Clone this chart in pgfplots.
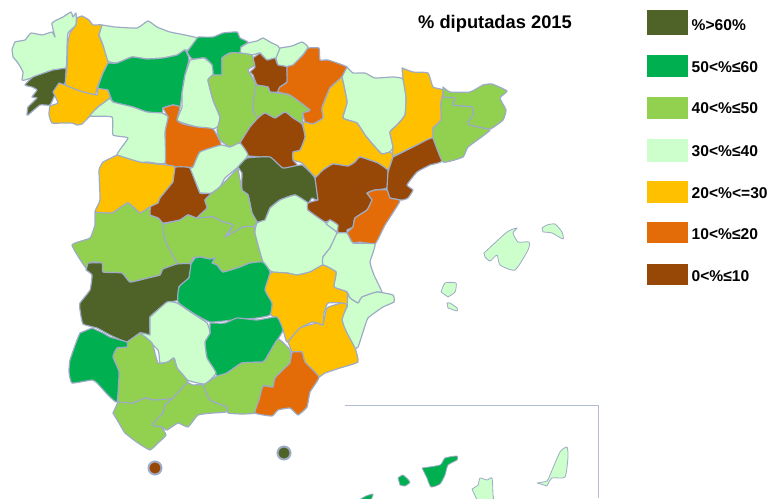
\documentclass[border=0pt]{standalone}
\usepackage{fontspec}
\setmainfont{Liberation Sans}
\usepackage{pgfplots}
\pgfplotsset{compat=1.18}
\definecolor{p60}{HTML}{4F6228}
\definecolor{p50}{HTML}{00B050}
\definecolor{p40}{HTML}{92D050}
\definecolor{p30}{HTML}{CCFFCC}
\definecolor{p20}{HTML}{FFC000}
\definecolor{p10}{HTML}{E36C09}
\definecolor{p00}{HTML}{974706}
\definecolor{mapline}{HTML}{9EABC6}
\newcommand{\prov}[2]{\addplot[draw=mapline,line width=1.2pt,line join=round,smooth,tension=0.25,fill=#1] coordinates {#2} -- cycle;}
\newcommand{\isl}[2]{\addplot[draw=mapline,line width=0.8pt,line join=round,smooth,tension=0.35,fill=#1] coordinates {#2} -- cycle;}
\newcommand{\key}[3]{%
  \addplot[draw=none,fill=#1] coordinates {(647,#2) (688,#2) (688,#3) (647,#3)} -- cycle;}
\begin{document}
\begin{tikzpicture}
\useasboundingbox (0,0) rectangle (770pt,498pt);
\begin{axis}[
  hide axis, scale only axis, width=770pt, height=498pt,
  xmin=0, xmax=770, ymin=0, ymax=498, y dir=reverse,
]
% Galicia
\prov{p30}{(12,50) (15,42) (25,40) (31,33) (42,35) (52,32) (55,37) (52,23) (63,17) (71,12) (73,17) (76,13) (76,25) (68,33) (67,47) (66,68) (53,70) (37,76) (25,80) (22,80) (23,72) (18,63) (13,57)}
\prov{p20}{(77,18) (82,16) (89,20) (93,25) (102,25) (99,35) (103,45) (105,50) (111,49) (107,55) (108,63) (103,73) (97,88) (95,95) (80,91) (68,87) (65,83) (67,68) (68,43) (70,33) (76,25)}
\prov{p60}{(66,68) (65,83) (55,95) (50,105) (40,105) (28,115) (27,115) (28,107) (37,98) (32,97) (37,90) (32,87) (25,85) (33,77) (53,70)}
\prov{p20}{(59,83) (65,85) (80,91) (97,95) (98,88) (107,89) (110,98) (98,107) (90,116) (82,124) (77,125) (72,123) (63,123) (52,123) (49,115) (50,106) (58,103) (53,92)}
% north coast
\prov{p30}{(102,25) (115,27) (137,28) (148,21) (157,27) (170,32) (197,38) (188,50) (185,50) (177,55) (163,58) (147,59) (132,57) (117,63) (108,61) (103,45) (99,35)}
\prov{p50}{(198,37) (213,37) (223,33) (237,32) (240,38) (248,42) (241,47) (240,53) (230,53) (222,58) (222,75) (213,75) (212,65) (205,58) (192,59) (187,52)}
\prov{p30}{(241,47) (248,43) (257,41) (263,38) (270,42) (278,46) (280,50) (277,58) (267,60) (260,53) (252,55) (240,53)}
\prov{p30}{(280,48) (292,46) (302,42) (308,47) (303,55) (293,65) (287,67) (278,65) (276,58)}
% Castilla y Leon
\prov{p50}{(108,63) (117,63) (132,57) (147,59) (163,58) (177,55) (185,50) (189,59) (185,75) (182,93) (180,107) (173,105) (163,108) (162,113) (147,112) (133,107) (113,102) (108,90) (98,88) (103,73)}
\prov{p30}{(190,60) (204,58) (212,65) (213,75) (208,80) (213,100) (220,117) (220,125) (213,129) (197,127) (183,123) (177,120) (182,107) (182,93) (185,75)}
\prov{p40}{(222,58) (230,53) (240,53) (252,55) (255,65) (248,70) (256,85) (253,110) (258,118) (250,127) (240,143) (230,147) (220,140) (217,130) (220,117) (213,100) (208,80) (213,75) (222,75)}
\prov{p00}{(260,53) (267,60) (275,58) (278,65) (287,67) (287,82) (280,87) (278,92) (270,92) (268,87) (257,85) (253,75) (250,72) (255,67) (253,58)}
\prov{p40}{(256,85) (268,87) (270,92) (290,95) (310,110) (303,113) (302,124) (293,118) (285,112) (275,118) (265,113) (258,118) (253,110) (254,97)}
\prov{p10}{(308,48) (319,48) (320,60) (328,60) (347,67) (342,77) (330,88) (322,108) (323,118) (313,124) (305,122) (303,113) (310,110) (290,95) (278,92) (280,87) (287,82) (287,67) (293,65) (303,55)}
\prov{p30}{(347,67) (353,73) (365,73) (375,78) (393,77) (403,79) (406,97) (405,115) (397,125) (390,132) (393,147) (390,152) (382,154) (375,147) (365,135) (357,123) (343,118) (347,102) (342,77)}
\prov{p20}{(402,68) (413,72) (428,73) (433,87) (443,90) (441,103) (441,120) (433,128) (433,138) (417,145) (393,156) (393,147) (390,132) (397,125) (405,115) (406,97) (403,79)}
\prov{p20}{(342,77) (347,102) (343,118) (357,123) (365,135) (375,147) (382,154) (390,152) (393,156) (388,170) (378,163) (360,157) (355,162) (348,166) (333,164) (323,170) (318,178) (313,175) (302,163) (293,160) (293,152) (300,150) (305,137) (303,122) (313,124) (323,118) (322,108) (330,88)}
\prov{p00}{(240,143) (250,127) (258,118) (265,113) (275,118) (285,112) (293,118) (302,124) (305,137) (300,150) (293,152) (293,160) (297,165) (285,170) (277,167) (267,158) (248,156)}
\prov{p10}{(163,108) (173,105) (180,107) (177,120) (183,124) (197,127) (213,129) (221,145) (200,152) (193,167) (173,167) (165,163) (165,132) (168,117)}
\prov{p30}{(110,98) (113,102) (133,107) (147,112) (162,113) (168,117) (165,132) (165,163) (147,162) (137,163) (117,155) (128,138) (113,135) (112,117) (90,116) (98,107)}
\prov{p20}{(117,155) (140,162) (167,165) (175,167) (173,182) (160,198) (158,203) (150,207) (140,213) (128,203) (112,213) (95,212) (100,200) (99,170) (103,162)}
\prov{p00}{(175,167) (190,168) (200,193) (212,193) (205,200) (207,208) (197,218) (188,215) (180,220) (163,223) (158,218) (150,215) (150,207) (158,203) (160,198) (173,182)}
\prov{p30}{(190,168) (193,167) (200,152) (221,145) (230,147) (240,143) (248,155) (238,167) (225,178) (220,187) (212,193) (200,193)}
% centre
\prov{p60}{(238,167) (247,158) (270,157) (283,168) (302,165) (315,178) (318,200) (312,198) (308,203) (295,195) (280,200) (270,208) (265,220) (257,222) (252,213) (248,195) (242,190) (242,173)}
\prov{p40}{(238,168) (242,190) (248,195) (252,213) (257,222) (253,227) (243,227) (227,237) (233,225) (223,222) (213,217) (197,218) (207,208) (205,200) (212,193) (220,187)}
\prov{p40}{(163,224) (180,220) (188,215) (197,218) (213,217) (223,222) (233,225) (225,237) (243,227) (255,227) (255,233) (263,262) (250,263) (240,267) (223,272) (217,265) (212,263) (215,258) (210,259) (200,257) (193,258) (190,264) (177,264) (168,247) (164,237)}
\prov{p40}{(95,212) (112,213) (128,203) (140,213) (150,207) (150,215) (158,218) (163,224) (164,237) (168,247) (177,264) (163,269) (160,275) (148,278) (130,282) (122,273) (103,272) (102,263) (92,262) (86,268) (72,245) (90,238) (95,225)}
\prov{p60}{(88,263) (102,263) (103,272) (122,273) (130,282) (148,278) (160,275) (163,269) (177,264) (191,264) (189,278) (179,287) (178,300) (167,303) (150,317) (150,335) (140,333) (127,342) (110,335) (97,328) (83,324) (80,310) (80,303) (90,290) (92,275) (86,270)}
\prov{p30}{(270,208) (280,200) (295,195) (308,203) (308,210) (325,222) (337,233) (330,248) (323,257) (323,265) (310,272) (297,275) (287,273) (272,272) (263,262) (255,233) (257,223) (265,220)}
\prov{p00}{(315,178) (323,170) (333,164) (348,166) (355,162) (360,157) (378,163) (388,170) (388,172) (387,188) (375,190) (367,193) (372,200) (367,210) (355,218) (353,227) (347,230) (347,237) (338,232) (337,225) (330,220) (325,222) (308,210) (308,203) (318,200)}
\prov{p30}{(326,224) (330,220) (338,225) (337,232)}
\prov{p00}{(393,157) (417,145) (433,138) (442,161) (430,165) (417,172) (407,185) (413,190) (408,198) (402,200) (390,198) (387,190) (388,172)}
\prov{p10}{(367,193) (375,190) (387,190) (390,198) (400,201) (385,225) (375,244) (360,242) (353,243) (347,233) (353,227) (355,218) (367,210) (372,200)}
\prov{p30}{(337,233) (347,233) (353,243) (375,244) (370,262) (374,275) (382,292) (377,292) (362,297) (358,303) (350,298) (347,292) (334,287) (336,272) (323,265) (323,257) (330,248)}
\prov{p30}{(347,293) (350,298) (358,303) (362,297) (377,292) (393,295) (394,302) (383,307) (368,318) (363,332) (358,347) (353,349) (345,332) (342,318) (347,307)}
\prov{p20}{(272,272) (287,273) (297,275) (310,272) (323,265) (336,272) (334,287) (347,292) (347,307) (342,303) (328,303) (324,313) (323,325) (313,322) (300,328) (287,342) (283,330) (270,313) (272,305) (265,290) (267,277)}
\prov{p20}{(288,342) (300,328) (317,323) (323,325) (327,308) (342,303) (347,305) (342,320) (347,333) (355,348) (358,362) (340,368) (325,373) (318,377) (305,362) (302,352) (292,352)}
\prov{p50}{(191,264) (195,258) (200,257) (210,259) (215,258) (212,263) (217,265) (223,272) (240,267) (250,263) (263,262) (270,272) (265,290) (272,303) (270,315) (257,318) (233,320) (210,322) (193,313) (178,302) (179,287) (189,278)}
% Andalucia
\prov{p50}{(210,323) (225,323) (237,318) (257,320) (277,317) (283,330) (278,339) (267,357) (263,362) (242,363) (227,373) (217,376) (207,358) (205,342) (210,333)}
\prov{p30}{(150,317) (167,302) (177,303) (192,313) (207,323) (210,333) (205,342) (207,358) (216,373) (205,384) (187,380) (177,368) (174,358) (168,362) (160,363) (158,350) (140,333) (150,335)}
\prov{p40}{(140,333) (152,343) (158,363) (168,362) (174,358) (177,368) (188,382) (173,398) (170,402) (153,400) (145,398) (133,403) (118,402) (119,372) (113,357) (117,348) (127,347) (127,342)}
\prov{p50}{(92,328) (103,333) (110,337) (127,342) (127,347) (117,348) (113,357) (119,372) (117,402) (108,395) (97,383) (92,380) (72,383) (69,372) (70,360) (77,340) (80,333)}
\prov{p40}{(118,402) (133,403) (145,398) (153,400) (172,399) (165,405) (163,413) (152,425) (160,425) (166,435) (158,443) (150,450) (138,443) (125,433) (119,423) (113,413)}
\prov{p40}{(173,398) (187,383) (193,385) (203,385) (210,400) (227,407) (226,412) (213,413) (198,415) (188,427) (178,423) (167,430) (162,427) (152,425) (163,413) (165,405)}
\prov{p40}{(205,384) (217,376) (227,373) (242,363) (263,362) (267,357) (278,339) (290,350) (290,363) (275,378) (273,387) (263,386) (258,412) (242,414) (228,413) (227,407) (210,400) (203,385)}
\prov{p10}{(292,352) (302,352) (305,362) (319,377) (310,392) (307,407) (298,415) (290,408) (278,410) (272,416) (255,413) (259,400) (263,386) (273,387) (275,378) (290,363)}
% Cataluna
\prov{p40}{(433,128) (441,120) (441,103) (443,97) (455,98) (453,105) (472,107) (473,115) (468,122) (470,125) (490,130) (468,147) (463,157) (443,162) (433,138)}
\prov{p40}{(443,87) (450,92) (470,92) (483,85) (492,84) (507,91) (500,98) (506,110) (503,120) (490,129) (470,125) (468,122) (473,115) (472,107) (453,105) (455,98) (443,97)}
% Baleares
\isl{p30}{(484,253) (507,232) (517,228) (513,233) (518,242) (529,242) (528,250) (515,270) (500,265) (497,255) (490,261) (485,257)}
\isl{p30}{(542,228) (547,225) (555,224) (562,232) (563,239) (552,233) (543,232)}
\isl{p30}{(441,292) (445,283) (456,283) (455,292) (448,297)}
\isl{p30}{(447,303) (450,303) (457,308) (457,311) (448,308)}
% Ceuta, Melilla
\addplot[only marks,mark=*,mark size=6.5pt,mark options={draw=mapline,line width=2pt,fill=p00}] coordinates {(155,468)};
\addplot[only marks,mark=*,mark size=6.5pt,mark options={draw=mapline,line width=2pt,fill=p60}] coordinates {(284,453)};
% Canarias
\addplot[draw=mapline!80,line width=1pt] coordinates {(345,405) (598,405) (598,498)};
\isl{p50}{(422,468) (440,465) (445,458) (457,456) (457,460) (448,465) (445,475) (440,484) (431,487) (427,478)}
\isl{p50}{(398,478) (403,475) (410,482) (405,486) (400,485)}
\isl{p30}{(472,489) (478,485) (480,478) (487,480) (492,478) (493,495) (493,500) (477,500)}
\isl{p30}{(537,483) (547,481) (550,475) (560,452) (567,447) (568,457) (565,477) (552,478) (547,486)}
\isl{p50}{(359,500) (366,496) (373,494) (371,500)}
% legend patches
\key{p60}{10}{35}
\key{p50}{55}{77}
\key{p40}{97}{119}
\key{p30}{139}{162}
\key{p20}{181}{203}
\key{p10}{222}{243}
\key{p00}{264}{285}
\node[anchor=center,font=\fontsize{18.3}{20}\selectfont\bfseries] at (axis cs:495,24) {\% diputadas 2015};
\begin{scope}[every node/.style={anchor=west,inner sep=0pt,font=\fontsize{15.6}{17}\selectfont\bfseries}]
\node at (axis cs:691.5,25) {\%>60\%};
\node at (axis cs:691.5,67) {50<\%≤60};
\node at (axis cs:691.5,108) {40<\%≤50};
\node at (axis cs:691.5,151) {30<\%≤40};
\node at (axis cs:691.5,193) {20<\%<=30};
\node at (axis cs:691.5,234) {10<\%≤20};
\node at (axis cs:691.5,276) {0<\%≤10};
\end{scope}
\end{axis}
\end{tikzpicture}
\end{document}
